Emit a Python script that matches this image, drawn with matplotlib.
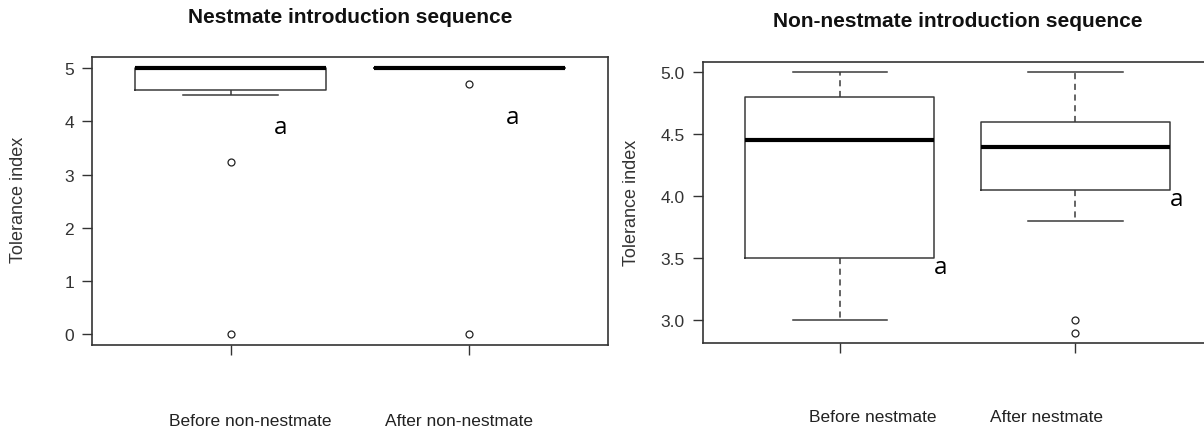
import matplotlib.pyplot as plt

plt.rcParams['font.family'] = ['Liberation Sans', 'DejaVu Sans']

# panel 1: nestmate introduction sequence
nm_labels = ['Before non-nestmate', 'After non-nestmate']
nm_med = [5.0, 5.0]
nm_q1 = [4.6, 5.0]
nm_q3 = [5.0, 5.0]
nm_whislo = [4.5, 5.0]
nm_whishi = [5.0, 5.0]
nm_fliers = [[3.24, 0.0], [4.71, 0.0]]
nm_yticks = [0, 1, 2, 3, 4, 5]

# panel 2: non-nestmate introduction sequence
nn_labels = ['Before nestmate', 'After nestmate']
nn_med = [4.45, 4.4]
nn_q1 = [3.5, 4.05]
nn_q3 = [4.8, 4.6]
nn_whislo = [3.0, 3.8]
nn_whishi = [5.0, 5.0]
nn_fliers = [[], [3.0, 2.9]]
nn_yticks = [3.0, 3.5, 4.0, 4.5, 5.0]

letters = ['a', 'a']


def make_stats(med, q1, q3, lo, hi, fl):
    out = []
    for i in range(len(med)):
        out.append({'med': med[i], 'q1': q1[i], 'q3': q3[i],
                    'whislo': lo[i], 'whishi': hi[i], 'fliers': fl[i]})
    return out


def draw_panel(ax, stats, yticks, ylim, fmt):
    edge = '#3a3a3a'
    ax.bxp(stats, positions=[1, 2], widths=0.8, showfliers=True,
           boxprops=dict(color=edge, linewidth=1.1),
           whiskerprops=dict(color=edge, linewidth=1.1, linestyle=(0, (4, 3))),
           capprops=dict(color=edge, linewidth=1.1),
           medianprops=dict(color='black', linewidth=3),
           flierprops=dict(marker='o', markersize=5, markerfacecolor='white',
                           markeredgecolor='#222222', markeredgewidth=0.9))
    ax.set_xlim(0.42, 2.58)
    ax.set_ylim(*ylim)
    ax.set_yticks(yticks)
    ax.set_yticklabels([fmt.format(v) for v in yticks])
    ax.set_xticks([1, 2])
    ax.set_xticklabels(['', ''])
    for sp in ax.spines.values():
        sp.set_color('#333333')
        sp.set_linewidth(1.2)
    ax.tick_params(direction='out', length=7, width=1.0, color='#333333',
                   labelsize=12.5, labelcolor='#333333', pad=6)


fig = plt.figure(figsize=(12.04, 4.31), dpi=100)

ax1 = fig.add_axes([0.0764, 0.197, 0.4286, 0.668])
draw_panel(ax1, make_stats(nm_med, nm_q1, nm_q3, nm_whislo, nm_whishi, nm_fliers),
           nm_yticks, (-0.21, 5.21), '{:d}')
ax1.text(1.21, 3.9, letters[0], fontsize=17.5, family='Open Sans', ha='center', va='center')
ax1.text(2.18, 4.09, letters[1], fontsize=17.5, family='Open Sans', ha='center', va='center')

ax2 = fig.add_axes([0.5839, 0.2019, 0.4228, 0.6527])
draw_panel(ax2, make_stats(nn_med, nn_q1, nn_q3, nn_whislo, nn_whishi, nn_fliers),
           nn_yticks, (2.816, 5.084), '{:.1f}')
ax2.text(1.43, 3.43, letters[0], fontsize=17.5, family='Open Sans', ha='center', va='center')
ax2.text(2.43, 3.98, letters[1], fontsize=17.5, family='Open Sans', ha='center', va='center')

fig.text(350 / 1204, 1 - 17.5 / 431, 'Nestmate introduction sequence', fontsize=15,
         fontweight='bold', ha='center', va='center', color='#111111')
fig.text(958 / 1204, 1 - 21.5 / 431, 'Non-nestmate introduction sequence', fontsize=15,
         fontweight='bold', ha='center', va='center', color='#111111')

fig.text(19 / 1204, 1 - 200 / 431, 'Tolerance index', rotation=90, fontsize=13,
         ha='center', va='center', color='#333333')
fig.text(631 / 1204, 1 - 203 / 431, 'Tolerance index', rotation=90, fontsize=13,
         ha='center', va='center', color='#333333')

fig.text(250 / 1204, 1 - 422 / 431, nm_labels[0], fontsize=12.5, ha='center', va='center', color='#222222')
fig.text(459 / 1204, 1 - 422 / 431, nm_labels[1], fontsize=12.5, ha='center', va='center', color='#222222')
fig.text(873 / 1204, 1 - 418 / 431, nn_labels[0], fontsize=12.5, ha='center', va='center', color='#222222')
fig.text(1047 / 1204, 1 - 418 / 431, nn_labels[1], fontsize=12.5, ha='center', va='center', color='#222222')

fig.savefig('out.png', dpi=100)
